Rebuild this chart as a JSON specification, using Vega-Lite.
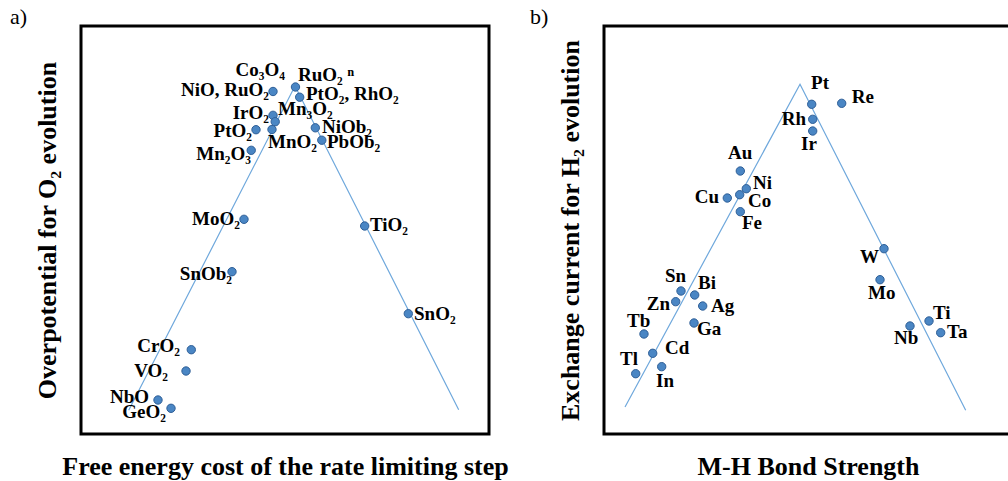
{
  "$schema": "https://vega.github.io/schema/vega-lite/v6.json",
  "background": "white",
  "padding": {"left": 8, "top": 4, "right": 0, "bottom": 0},
  "spacing": 18,
  "config": {
    "view": {"stroke": "black", "strokeWidth": 3},
    "axis": {"domain": false, "ticks": false, "labels": false, "grid": false, "titleFont": "Liberation Serif", "titleFontSize": 26, "titleFontWeight": "bold", "titleColor": "black"},
    "title": {"font": "Liberation Serif", "fontSize": 22, "fontWeight": "normal", "color": "black", "anchor": "start", "frame": "group"},
    "text": {"font": "Liberation Serif", "fontSize": 19, "fontWeight": "bold", "color": "black", "baseline": "alphabetic"}
  },
  "datasets": {
    "lineA": [{"i": 0, "x": 11.69, "y": 5.81}, {"i": 1, "x": 52.45, "y": 85.29}, {"i": 2, "x": 92.57, "y": 5.96}],
    "pointsA": [
      {"name": "NiO, RuO2", "x": 47.06, "y": 83.95},
      {"name": "RuO2", "x": 52.57, "y": 85.05},
      {"name": "PtO2, RhO2", "x": 53.6, "y": 82.55},
      {"name": "IrO2", "x": 47.06, "y": 78.11},
      {"name": "Mn3O2", "x": 47.6, "y": 76.54},
      {"name": "MnO2", "x": 46.81, "y": 74.63},
      {"name": "PtO2 b", "x": 42.89, "y": 74.58},
      {"name": "Mn2O3", "x": 41.72, "y": 69.53},
      {"name": "NiOb2", "x": 57.43, "y": 75.05},
      {"name": "PbOb2", "x": 59.02, "y": 72.01},
      {"name": "MoO2", "x": 39.95, "y": 52.62},
      {"name": "TiO2", "x": 69.53, "y": 50.98},
      {"name": "SnOb2", "x": 37.01, "y": 39.78},
      {"name": "SnO2", "x": 80.22, "y": 29.49},
      {"name": "CrO2", "x": 27.03, "y": 20.66},
      {"name": "VO2", "x": 25.74, "y": 15.44},
      {"name": "NbO", "x": 18.87, "y": 8.33},
      {"name": "GeO2", "x": 22.06, "y": 6.30}
    ],
    "labelsA": [
      {"label": "Co₃O₄", "x": 50.0, "y": 87.75, "side": "right"},
      {"label": "NiO, RuO₂", "x": 46.08, "y": 82.84, "side": "right"},
      {"label": "IrO₂", "x": 46.08, "y": 77.21, "side": "right"},
      {"label": "PtO₂", "x": 41.91, "y": 72.79, "side": "right"},
      {"label": "Mn₂O₃", "x": 41.67, "y": 67.16, "side": "right"},
      {"label": "MoO₂", "x": 38.97, "y": 51.23, "side": "right"},
      {"label": "SnOb₂", "x": 37.01, "y": 37.75, "side": "right"},
      {"label": "CrO₂", "x": 24.26, "y": 20.10, "side": "right"},
      {"label": "VO₂", "x": 21.32, "y": 13.97, "side": "right"},
      {"label": "NbO", "x": 16.67, "y": 7.60, "side": "right"},
      {"label": "GeO₂", "x": 20.83, "y": 3.92, "side": "right"},
      {"label": "RuO₂ ⁿ", "x": 53.19, "y": 86.52, "side": "left"},
      {"label": "PtO₂, RhO₂", "x": 55.15, "y": 81.86, "side": "left"},
      {"label": "Mn₃O₂", "x": 48.28, "y": 78.19, "side": "left"},
      {"label": "MnO₂", "x": 45.83, "y": 70.10, "side": "left"},
      {"label": "NiOb₂", "x": 59.07, "y": 73.77, "side": "left"},
      {"label": "PbOb₂", "x": 60.29, "y": 70.10, "side": "left"},
      {"label": "TiO₂", "x": 70.83, "y": 49.75, "side": "left"},
      {"label": "SnO₂", "x": 81.62, "y": 27.94, "side": "left"}
    ],
    "lineB": [{"i": 0, "x": 5.15, "y": 6.62}, {"i": 1, "x": 48.04, "y": 85.71}, {"i": 2, "x": 88.65, "y": 5.81}],
    "pointsB": [
      {"name": "Pt", "x": 50.91, "y": 80.81},
      {"name": "Re", "x": 58.26, "y": 81.05},
      {"name": "Rh", "x": 51.15, "y": 77.13},
      {"name": "Ir", "x": 51.15, "y": 74.26},
      {"name": "Au", "x": 33.41, "y": 64.46},
      {"name": "Ni", "x": 34.88, "y": 60.12},
      {"name": "Co", "x": 33.26, "y": 58.65},
      {"name": "Cu", "x": 30.22, "y": 57.84},
      {"name": "Fe", "x": 33.41, "y": 54.49},
      {"name": "W", "x": 68.63, "y": 45.42},
      {"name": "Mo", "x": 67.65, "y": 37.82},
      {"name": "Sn", "x": 18.87, "y": 35.05},
      {"name": "Bi", "x": 22.23, "y": 34.07},
      {"name": "Zn", "x": 17.57, "y": 32.43},
      {"name": "Ag", "x": 24.19, "y": 31.37},
      {"name": "Ga", "x": 22.06, "y": 27.21},
      {"name": "Tb", "x": 9.80, "y": 24.51},
      {"name": "Ti", "x": 79.66, "y": 27.70},
      {"name": "Nb", "x": 75.0, "y": 26.47},
      {"name": "Ta", "x": 82.52, "y": 24.83},
      {"name": "Cd", "x": 11.94, "y": 19.78},
      {"name": "In", "x": 14.14, "y": 16.50},
      {"name": "Tl", "x": 7.77, "y": 14.78}
    ],
    "labelsB": [
      {"label": "Pt", "x": 50.74, "y": 84.56, "side": "left"},
      {"label": "Re", "x": 60.71, "y": 81.13, "side": "left"},
      {"label": "Rh", "x": 49.51, "y": 75.74, "side": "right"},
      {"label": "Ir", "x": 48.28, "y": 69.61, "side": "left"},
      {"label": "Au", "x": 30.39, "y": 67.28, "side": "left"},
      {"label": "Ni", "x": 36.52, "y": 60.05, "side": "left"},
      {"label": "Cu", "x": 28.19, "y": 56.62, "side": "right"},
      {"label": "Co", "x": 35.29, "y": 55.64, "side": "left"},
      {"label": "Fe", "x": 33.82, "y": 50.25, "side": "left"},
      {"label": "W", "x": 67.40, "y": 41.91, "side": "right"},
      {"label": "Mo", "x": 64.71, "y": 33.09, "side": "left"},
      {"label": "Sn", "x": 14.95, "y": 37.25, "side": "left"},
      {"label": "Bi", "x": 23.04, "y": 35.54, "side": "left"},
      {"label": "Zn", "x": 16.18, "y": 30.39, "side": "right"},
      {"label": "Ag", "x": 26.23, "y": 29.90, "side": "left"},
      {"label": "Ga", "x": 22.79, "y": 24.26, "side": "left"},
      {"label": "Tb", "x": 5.64, "y": 26.23, "side": "left"},
      {"label": "Cd", "x": 14.95, "y": 19.61, "side": "left"},
      {"label": "Tl", "x": 3.92, "y": 16.91, "side": "left"},
      {"label": "In", "x": 12.75, "y": 11.52, "side": "left"},
      {"label": "Ti", "x": 80.64, "y": 28.19, "side": "left"},
      {"label": "Ta", "x": 84.07, "y": 23.53, "side": "left"},
      {"label": "Nb", "x": 71.08, "y": 22.06, "side": "left"}
    ]
  },
  "hconcat": [
    {
      "width": 408,
      "height": 408,
      "title": {"text": "a)", "dx": -71, "offset": -3},
      "encoding": {
        "x": {"field": "x", "type": "quantitative", "scale": {"domain": [0, 100], "nice": false, "zero": false}, "axis": {"title": "Free energy cost of the rate limiting step", "titlePadding": 19}},
        "y": {"field": "y", "type": "quantitative", "scale": {"domain": [0, 100], "nice": false, "zero": false}, "axis": {"title": "Overpotential for O₂ evolution", "titlePadding": 21}}
      },
      "layer": [
        {"data": {"name": "lineA"}, "mark": {"type": "line", "color": "#6fa8dc", "strokeWidth": 1.2}, "encoding": {"order": {"field": "i", "type": "quantitative"}}},
        {"data": {"name": "pointsA"}, "mark": {"type": "point", "shape": "circle", "filled": true, "size": 70, "fill": "#4a86c4", "stroke": "#2f5f97", "strokeWidth": 1, "opacity": 1}},
        {"data": {"name": "labelsA"}, "transform": [{"filter": "datum.side == 'right'"}], "mark": {"type": "text", "align": "right"}, "encoding": {"text": {"field": "label"}}},
        {"data": {"name": "labelsA"}, "transform": [{"filter": "datum.side == 'left'"}], "mark": {"type": "text", "align": "left"}, "encoding": {"text": {"field": "label"}}}
      ]
    },
    {
      "width": 408,
      "height": 408,
      "title": {"text": "b)", "dx": -74, "offset": -3},
      "encoding": {
        "x": {"field": "x", "type": "quantitative", "scale": {"domain": [0, 100], "nice": false, "zero": false}, "axis": {"title": "M-H Bond Strength", "titlePadding": 19}},
        "y": {"field": "y", "type": "quantitative", "scale": {"domain": [0, 100], "nice": false, "zero": false}, "axis": {"title": "Exchange current for H₂ evolution", "titlePadding": 21}}
      },
      "layer": [
        {"data": {"name": "lineB"}, "mark": {"type": "line", "color": "#6fa8dc", "strokeWidth": 1.2}, "encoding": {"order": {"field": "i", "type": "quantitative"}}},
        {"data": {"name": "pointsB"}, "mark": {"type": "point", "shape": "circle", "filled": true, "size": 70, "fill": "#4a86c4", "stroke": "#2f5f97", "strokeWidth": 1, "opacity": 1}},
        {"data": {"name": "labelsB"}, "transform": [{"filter": "datum.side == 'right'"}], "mark": {"type": "text", "align": "right"}, "encoding": {"text": {"field": "label"}}},
        {"data": {"name": "labelsB"}, "transform": [{"filter": "datum.side == 'left'"}], "mark": {"type": "text", "align": "left"}, "encoding": {"text": {"field": "label"}}}
      ]
    }
  ]
}
